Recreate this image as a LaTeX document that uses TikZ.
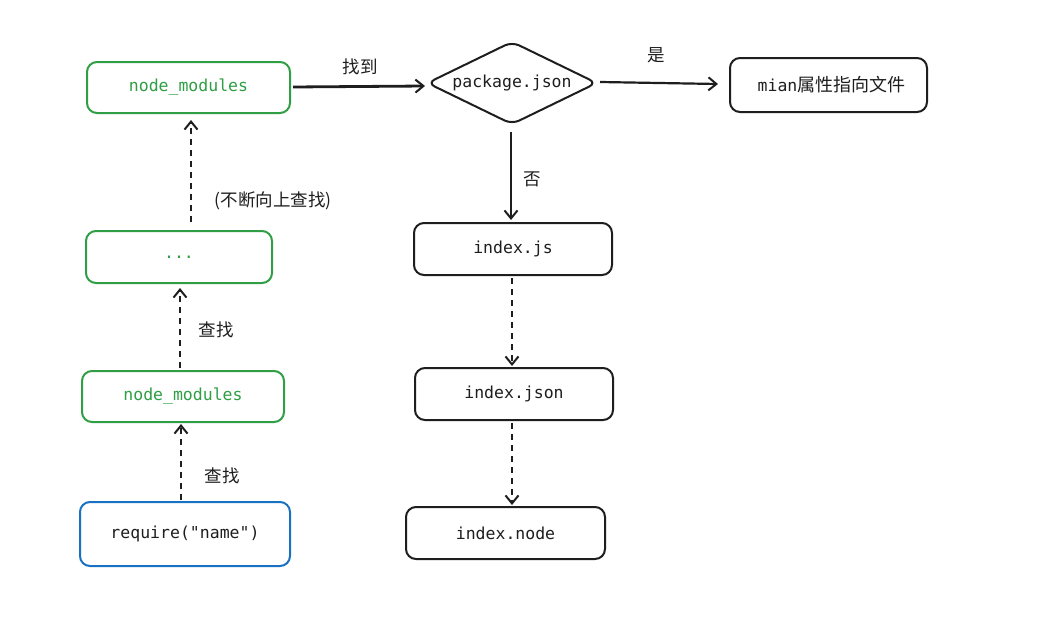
\documentclass[tikz,border=0pt]{standalone}
\usepackage{fontspec}
\setmonofont{DejaVu Sans Mono}
\newfontfamily\cjk{Noto Sans CJK SC}
\usetikzlibrary{shapes.geometric,arrows.meta}
\definecolor{exgreen}{HTML}{2F9E44}
\definecolor{exblue}{HTML}{1971C2}
\definecolor{exblack}{HTML}{1E1E1E}
\tikzset{
  x=1pt,y=-1pt,
  box/.style={draw=exblack,line width=2pt,rounded corners=10pt,inner sep=0pt,font=\ttfamily\fontsize{16.5}{19}\selectfont,text=exblack},
  gbox/.style={box,draw=exgreen,text=exgreen},
  bbox/.style={box,draw=exblue},
  lbl/.style={font=\cjk\fontsize{17.5}{20}\selectfont,text=exblack,inner sep=0pt},
  conn/.style={draw=exblack,line width=2.2pt,-{Straight Barb[length=8pt,width=13pt,line width=2pt]}},
  dconn/.style={conn,dash pattern=on 6pt off 5pt},
}
\begin{document}
\begin{tikzpicture}
\useasboundingbox[fill=white] (0,0) rectangle (1038,637);
% left column
\node[gbox,minimum width=203pt,minimum height=51pt] (nm1) at (188.5,87.5) {node\_modules};
\node[gbox,minimum width=186pt,minimum height=52pt] (dots) at (179,257) {...};
\node[gbox,minimum width=202pt,minimum height=51pt] (nm2) at (183,396.5) {node\_modules};
\node[bbox,minimum width=210pt,minimum height=64pt] (req) at (185,534) {require("name")};
% diamond
\node[diamond,draw=exblack,line width=2pt,rounded corners=8pt,inner sep=0pt,minimum width=170pt,minimum height=83pt,aspect=2.05,font=\ttfamily\fontsize{16.5}{19}\selectfont,text=exblack] (pkg) at (512,83) {package.json};
\node[box,minimum width=197pt,minimum height=54pt] (mian) at (828.5,85) {\hspace{6pt}mian{\cjk\fontsize{18}{20}\selectfont 属性指向文件}};
% right column
\node[box,minimum width=198pt,minimum height=52pt] (ijs) at (513,249) {index.js};
\node[box,minimum width=198pt,minimum height=52pt] (ijson) at (514,394) {index.json};
\node[box,minimum width=199pt,minimum height=52pt] (inode) at (505.5,533) {index.node};
% connectors
\coordinate (a1s) at (293,87);
\coordinate (a1e) at (425,86);
\draw[conn,line width=2.8pt] (a1s) -- (a1e);
\node[lbl] (l1) at (360,67) {找到};
\coordinate (a2s) at (600,82);
\coordinate (a2e) at (718,84);
\draw[conn] (a2s) -- (a2e);
\node[lbl] (l2) at (656,55) {是};
\coordinate (a3s) at (511,132);
\coordinate (a3e) at (511,220);
\draw[conn] (a3s) -- (a3e);
\node[lbl] (l3) at (532,179) {否};
\coordinate (b1s) at (191,222);
\coordinate (b1e) at (191,120);
\draw[dconn] (b1s) -- (b1e);
\node[lbl] (l4) at (273,201) {(不断向上查找)};
\coordinate (b2s) at (180,368);
\coordinate (b2e) at (180,288);
\draw[dconn] (b2s) -- (b2e);
\node[lbl] (l5) at (216,330) {查找};
\coordinate (b3s) at (181,500);
\coordinate (b3e) at (181,424);
\draw[dconn] (b3s) -- (b3e);
\node[lbl] (l6) at (222,476) {查找};
\coordinate (c1s) at (512,278);
\coordinate (c1e) at (512,366);
\draw[dconn] (c1s) -- (c1e);
\coordinate (c2s) at (512,423);
\coordinate (c2e) at (512,505);
\draw[dconn] (c2s) -- (c2e);
\end{tikzpicture}
\end{document}
